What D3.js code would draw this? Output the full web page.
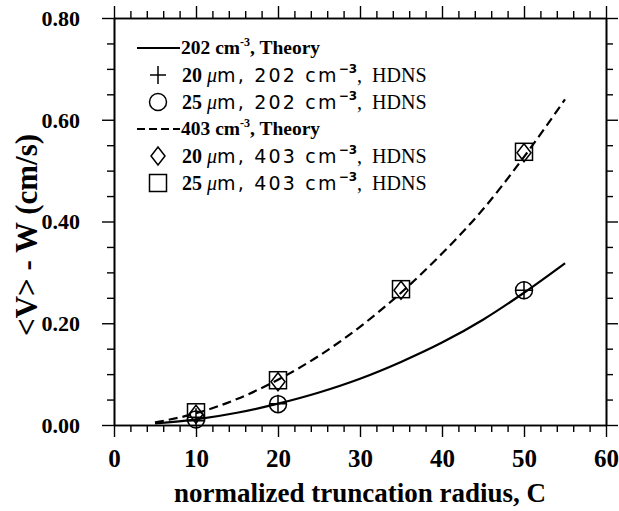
<!DOCTYPE html>
<html><head><meta charset="utf-8">
<script src="https://cdn.jsdelivr.net/npm/d3@7"></script>
<style>
body{margin:0;background:#fff;}
svg{display:block;}
</style></head>
<body><svg id="chart" width="619" height="511"></svg>
<script>
// ---- data ----
const xTicks = [0, 10, 20, 30, 40, 50, 60];
const yTicks = [0.0, 0.2, 0.4, 0.6, 0.8];
const theoryC = [5, 10, 15, 20, 25, 30, 35, 40, 45, 50, 55];
const theory202 = [0.003, 0.011, 0.024, 0.042, 0.064, 0.091, 0.124, 0.162, 0.207, 0.260, 0.318];
const theory403 = [0.005, 0.023, 0.051, 0.089, 0.136, 0.193, 0.260, 0.337, 0.424, 0.527, 0.640];
const hdnsC202 = [10, 20, 50];
const hdns20um202 = [0.015, 0.042, 0.265];
const hdns25um202 = [0.011, 0.041, 0.265];
const hdnsC403 = [10, 20, 35, 50];
const hdns20um403 = [0.021, 0.085, 0.265, 0.535];
const hdns25um403 = [0.025, 0.088, 0.267, 0.537];

const svg = d3.select("#chart");
const L = 114, R = 606, T = 18, B = 425;
const x = d3.scaleLinear().domain([0, 60]).range([L, R]);
const y = d3.scaleLinear().domain([0, 0.8]).range([B, T]);

const serif = "'Liberation Serif','Times New Roman',serif";
const xMinor = d3.range(0, 61, 2).filter(v => v % 10 !== 0);
const yMinor = d3.range(0, 0.801, 0.05).filter(v => Math.abs(v*5 - Math.round(v*5)) > 1e-6);

function axisGroup(axisFn, scale, tr, majors, minors, fmt) {
  const g = svg.append("g").attr("transform", tr);
  g.call(axisFn(scale).tickValues(minors).tickSize(7).tickSizeOuter(0).tickFormat(""));
  const g2 = svg.append("g").attr("transform", tr);
  g2.call(axisFn(scale).tickValues(majors).tickSize(12).tickSizeOuter(0).tickFormat(fmt || ""));
  [g, g2].forEach(gg => {
    gg.selectAll("path.domain").attr("stroke", "#000").attr("stroke-width", 1.6);
    gg.selectAll(".tick line").attr("stroke", "#000").attr("stroke-width", 1.4);
  });
  return g2;
}
const gx = axisGroup(d3.axisBottom, x, `translate(0,${B})`, xTicks, xMinor, d3.format("d"));
axisGroup(d3.axisTop, x, `translate(0,${T})`, xTicks, xMinor, null);
const gy = axisGroup(d3.axisLeft, y, `translate(${L},0)`, yTicks, yMinor, d3.format(".2f"));
axisGroup(d3.axisRight, y, `translate(${R},0)`, yTicks, yMinor, null);

gx.selectAll(".tick text").attr("font-family", serif).attr("font-weight", "bold")
  .attr("font-size", 25).attr("fill", "#000").attr("dy", 0).attr("y", 42);
gy.selectAll(".tick text").attr("font-family", serif).attr("font-weight", "bold")
  .attr("font-size", 22).attr("fill", "#000").attr("x", -34).attr("dy", "0.34em");

// axis titles
svg.append("text").attr("x", 360).attr("y", 502).attr("text-anchor", "middle")
  .attr("font-family", serif).attr("font-weight", "bold").attr("font-size", 27)
  .text("normalized truncation radius, C");
svg.append("text").attr("transform", `translate(37,235) rotate(-90)`)
  .attr("text-anchor", "middle").attr("font-family", serif).attr("font-weight", "bold")
  .attr("font-size", 31).text("<V> - W (cm/s)");

// theory curves
const line = d3.line().x(d => x(d[0])).y(d => y(d[1])).curve(d3.curveMonotoneX);
svg.append("path").datum(d3.zip(theoryC, theory202)).attr("d", line)
  .attr("fill", "none").attr("stroke", "#000").attr("stroke-width", 2.2);
svg.append("path").datum(d3.zip(theoryC, theory403)).attr("d", line)
  .attr("fill", "none").attr("stroke", "#000").attr("stroke-width", 2.2)
  .attr("stroke-dasharray", "9,5");

// markers
function drawMarker(g, type, cx, cy) {
  if (type === "plus") {
    g.append("path").attr("d", `M${cx-8},${cy}H${cx+8}M${cx},${cy-9}V${cy+9}`)
      .attr("stroke", "#000").attr("stroke-width", 1.5).attr("fill", "none");
  } else if (type === "circle") {
    g.append("circle").attr("cx", cx).attr("cy", cy).attr("r", 8.5)
      .attr("stroke", "#000").attr("stroke-width", 1.5).attr("fill", "none");
  } else if (type === "diamond") {
    g.append("path").attr("d", `M${cx},${cy-9}L${cx+7},${cy}L${cx},${cy+9}L${cx-7},${cy}Z`)
      .attr("stroke", "#000").attr("stroke-width", 1.5).attr("fill", "none");
  } else if (type === "square") {
    g.append("rect").attr("x", cx-8.5).attr("y", cy-8.5).attr("width", 17).attr("height", 17)
      .attr("stroke", "#000").attr("stroke-width", 1.5).attr("fill", "none");
  }
}
const mg = svg.append("g");
hdnsC202.forEach((c, i) => drawMarker(mg, "plus", x(c), y(hdns20um202[i])));
hdnsC202.forEach((c, i) => drawMarker(mg, "circle", x(c), y(hdns25um202[i])));
hdnsC403.forEach((c, i) => drawMarker(mg, "diamond", x(c), y(hdns20um403[i])));
hdnsC403.forEach((c, i) => drawMarker(mg, "square", x(c), y(hdns25um403[i])));

// legend
const lg = svg.append("g");
const rows = [
  {kind: "line", dash: null, label: "202"},
  {kind: "plus", um: "20", label: "202"},
  {kind: "circle", um: "25", label: "202"},
  {kind: "line", dash: "8,4", label: "403"},
  {kind: "diamond", um: "20", label: "403"},
  {kind: "square", um: "25", label: "403"}
];
const rowY = [48, 75, 102, 129, 156, 183];
const sans = "'DejaVu Sans',sans-serif";
rows.forEach((r, i) => {
  const cy = rowY[i];
  if (r.kind === "line") {
    lg.append("line").attr("x1", 137).attr("x2", 180).attr("y1", cy).attr("y2", cy)
      .attr("stroke", "#000").attr("stroke-width", 2).attr("stroke-dasharray", r.dash);
    const t = lg.append("text").attr("x", 181).attr("y", cy + 6)
      .attr("font-family", serif).attr("font-weight", "bold").attr("font-size", 19.5);
    t.append("tspan").text(r.label + " cm");
    t.append("tspan").attr("dy", -8).attr("font-size", 12).text("-3");
    t.append("tspan").attr("dy", 8).text(", Theory");
  } else {
    drawMarker(lg, r.kind, 158, cy);
    const t = lg.append("text").attr("x", 182).attr("y", cy + 7).attr("font-size", 20);
    t.append("tspan").attr("font-family", serif).attr("font-weight", "bold").text(r.um + " ");
    t.append("tspan").attr("font-family", serif).attr("font-style", "italic").text("\u03bc");
    t.append("tspan").attr("font-family", sans).attr("font-size", 19).attr("letter-spacing", 2.2)
      .text("m, " + r.label + " cm");
    t.append("tspan").attr("font-family", sans).attr("font-weight", "bold").attr("font-size", 12)
      .attr("dy", -9).text("\u22123");
    t.append("tspan").attr("font-family", serif).attr("dy", 9).text(",\u00a0 HDNS");
  }
});
</script>
</body></html>
